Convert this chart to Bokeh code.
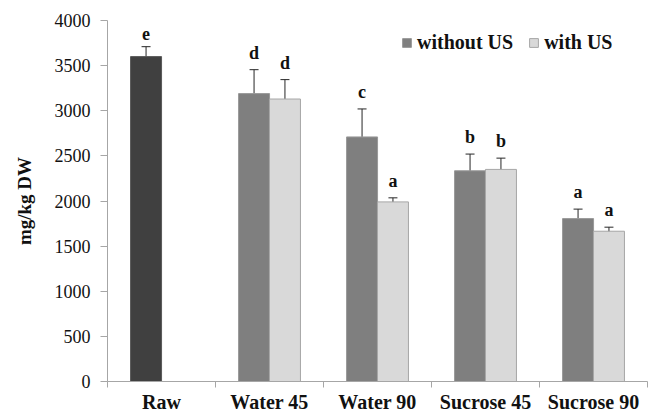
from bokeh.plotting import figure
from bokeh.models import ColumnDataSource, Whisker, TeeHead, FixedTicker, Legend, LegendItem, Range1d
from bokeh.core.properties import value
from bokeh.embed import file_html
from bokeh.resources import INLINE

# ---- data ----
categories = ["Raw", "Water 45", "Water 90", "Sucrose 45", "Sucrose 90"]
raw_value = [3600]
raw_err = [110]
raw_letter = ["e"]
treat_cats = ["Water 45", "Water 90", "Sucrose 45", "Sucrose 90"]
without_values = [3190, 2710, 2335, 1805]
without_err = [265, 310, 185, 105]
without_letters = ["d", "c", "b", "a"]
with_values = [3130, 1990, 2350, 1665]
with_err = [215, 45, 125, 45]
with_letters = ["d", "a", "b", "a"]
y_ticks = [0, 500, 1000, 1500, 2000, 2500, 3000, 3500, 4000]

FONT_NAME = "Liberation Serif, 'Times New Roman', DejaVu Serif, serif"
FONT = value(FONT_NAME)
OFF = 0.143
BW = 0.287

def center(cat):
    return categories.index(cat) + 0.5

def make_src(xs, vals, errs, letters):
    return ColumnDataSource(dict(
        x=xs, top=vals,
        upper=[v + e for v, e in zip(vals, errs)],
        lower=[v - e for v, e in zip(vals, errs)],
        letter=letters))

raw_src = make_src([center("Raw") - OFF], raw_value, raw_err, raw_letter)
wo_src = make_src([center(c) - OFF for c in treat_cats], without_values, without_err, without_letters)
wi_src = make_src([center(c) + OFF for c in treat_cats], with_values, with_err, with_letters)

p = figure(width=652, height=415, output_backend="svg", toolbar_location=None,
           x_range=Range1d(0, len(categories)), y_range=Range1d(0, 4000),
           min_border_left=107, min_border_right=5, min_border_top=20, min_border_bottom=32)
p.outline_line_color = None
p.xgrid.visible = False
p.ygrid.visible = False
p.background_fill_color = "white"

r_raw = p.vbar(x="x", top="top", width=BW, source=raw_src, fill_color="#404040", line_color="#5a5a5a")
r_wo = p.vbar(x="x", top="top", width=BW, source=wo_src, fill_color="#7f7f7f", line_color="#999999")
r_wi = p.vbar(x="x", top="top", width=BW, source=wi_src, fill_color="#d9d9d9", line_color="#a6a6a6")

for src in (raw_src, wo_src, wi_src):
    w = Whisker(source=src, base="x", upper="upper", lower="lower",
                line_color="#262626", line_width=1,
                upper_head=TeeHead(size=9, line_color="#262626", line_width=1),
                lower_head=TeeHead(size=9, line_color="#262626", line_width=1))
    p.add_layout(w)
    p.text(x="x", y="upper", text="letter", source=src, text_align="center",
           text_baseline="bottom", y_offset=-7, text_font=FONT,
           text_font_style="bold", text_font_size="18px", text_color="#111111")

# x axis: labels at category centres, ticks at category boundaries
ax = p.xaxis[0]
ax.axis_label = None
ax.ticker = FixedTicker(ticks=[center(c) for c in categories],
                        minor_ticks=list(range(len(categories) + 1)))
ax.major_label_overrides = {center(c): c for c in categories}
ax.major_tick_out = 0
ax.major_tick_in = 0
ax.minor_tick_out = 6
ax.minor_tick_in = 0
ax.minor_tick_line_color = "#a6a6a6"
ax.axis_line_color = "#a6a6a6"
ax.major_label_standoff = 3
ax.major_label_text_font = FONT_NAME
ax.major_label_text_font_style = "bold"
ax.major_label_text_font_size = "20px"
ax.major_label_text_color = "#111111"

ay = p.yaxis[0]
ay.ticker = FixedTicker(ticks=y_ticks)
ay.minor_tick_line_color = None
ay.major_tick_out = 7
ay.major_tick_in = 0
ay.major_tick_line_color = "#a6a6a6"
ay.axis_line_color = "#a6a6a6"
ay.major_label_standoff = 10
ay.major_label_text_font = FONT_NAME
ay.major_label_text_font_size = "18px"
ay.major_label_text_color = "#111111"
ay.axis_label = "mg/kg DW"
ay.axis_label_text_font = FONT_NAME
ay.axis_label_text_font_style = "bold"
ay.axis_label_text_font_size = "19px"
ay.axis_label_text_color = "#111111"
ay.axis_label_standoff = 17

legend = Legend(items=[LegendItem(label="without US", renderers=[r_wo]),
                       LegendItem(label="with US", renderers=[r_wi])],
                orientation="horizontal", location=(294, 327),
                padding=0, margin=0, spacing=15, label_standoff=5,
                glyph_width=11, glyph_height=11,
                border_line_color=None, background_fill_alpha=0,
                label_text_font=FONT_NAME, label_text_font_style="bold",
                label_text_font_size="20px", label_text_color="#111111")
p.add_layout(legend)

open("out.html", "w").write(file_html(p, INLINE))
